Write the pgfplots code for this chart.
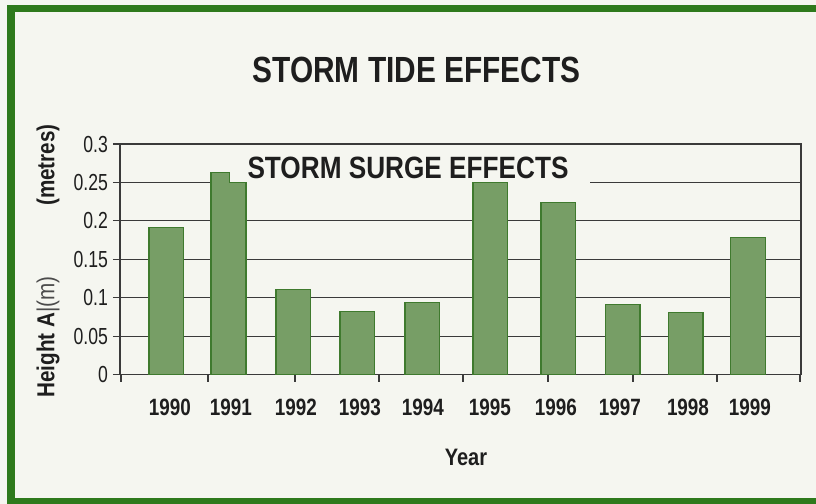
\documentclass[border=0pt]{standalone}
\usepackage{pgfplots}
\pgfplotsset{compat=1.18}
\usepackage{fontspec}
\setmainfont{Liberation Sans}
\usepackage{graphicx}

\definecolor{pagebg}{HTML}{F5F6F0}
\definecolor{frame}{HTML}{2E7A1C}
\definecolor{barfill}{HTML}{779E66}
\definecolor{baredge}{HTML}{3F7A2E}
\definecolor{rulegray}{HTML}{3A3A3A}
\definecolor{ink}{HTML}{1E1E1E}

% condensed lettering
\newcommand{\narrow}[2][0.82]{\scalebox{#1}[1]{#2}}
\newcommand{\yl}[1]{\scalebox{0.76}[1]{\fontsize{11.6}{12}\selectfont #1}}
\newcommand{\xl}[1]{\scalebox{0.8}[1]{\fontsize{11.8}{12}\selectfont\bfseries #1}}

\begin{document}
\begin{tikzpicture}[x=0.5pt,y=0.5pt]
  % page and frame
  \fill[pagebg] (0,0) rectangle (816,504);
  \fill[frame] (7,0) rectangle (15,499);
  \fill[frame] (7,492) rectangle (816,499);
  \fill[frame] (7,0) rectangle (816,6);

  \begin{axis}[
      at={(120,168.5)}, anchor=south west,
      scale only axis,
      width=340.5pt, height=115.25pt,
      xmin=120, xmax=801,
      ymin=0, ymax=0.3,
      axis line style={rulegray, line width=0.6pt},
      ymajorgrids,
      grid style={rulegray, line width=0.5pt},
      tick align=outside,
      xtick pos=bottom, ytick pos=left,
      major tick length=3.5pt,
      tick style={rulegray, line width=0.6pt},
      ytick={0,0.05,0.1,0.15,0.2,0.25,0.3},
      yticklabels={\yl{0},\yl{0.05},\yl{0.1},\yl{0.15},\yl{0.2},\yl{0.25},\yl{0.3}},
      yticklabel style={anchor=east, xshift=1pt, text=ink},
      xtick={121,208,295,379,463,548,633,717,800},
      xticklabels={},
      extra x ticks={170,231,296,360,423,490,556,620,688,750},
      extra x tick labels={\xl{1990},\xl{1991},\xl{1992},\xl{1993},\xl{1994},
        \xl{1995},\xl{1996},\xl{1997},\xl{1998},\xl{1999}},
      extra x tick style={
        major tick length=0pt,
        grid=none,
        xticklabel style={anchor=base, yshift=-20.5pt, text=ink},
      },
      clip=false,
    ]
    % panel that carries the inner caption
    \fill[pagebg] (axis cs:246,0.2486) rectangle (axis cs:590,0.2972);

    \addplot[ybar, bar width=34.5, bar shift=0pt,
             fill=barfill, draw=baredge, line width=0.6pt]
      coordinates {
        (166.3,0.191)
        (293.3,0.111)
        (357.2,0.082)
        (422.2,0.094)
        (490.3,0.250)
        (558.3,0.2235)
        (622.8,0.0913)
        (685.7,0.081)
        (748.0,0.1787)
      };
    % 1991: stepped top
    \addplot[fill=barfill, draw=baredge, line width=0.6pt]
      coordinates {(211,0) (211,0.2626) (229.3,0.2626) (229.3,0.25)
                   (246,0.25) (246,0)} -- cycle;
  \end{axis}

  % titles and axis captions
  \node[text=ink, inner sep=0pt] at (416.5,434)
    {\narrow{\fontsize{18.2}{20}\selectfont\bfseries STORM TIDE EFFECTS}};
  \node[text=ink, inner sep=0pt] at (408,336.5)
    {\narrow[0.85]{\fontsize{15.4}{17}\selectfont\bfseries STORM SURGE EFFECTS}};
  \node[text=ink, inner sep=0pt] at (466,47)
    {\narrow[0.84]{\fontsize{11.9}{13}\selectfont\bfseries Year}};
  \node[text=ink, inner sep=0pt, rotate=90, anchor=west] at (48,106)
    {\narrow[0.84]{\fontsize{12.3}{14}\selectfont\textbf{Height A}\textcolor{ink!80}{|(m)}}};
  \node[text=ink, inner sep=0pt, rotate=90] at (48,339)
    {\narrow[0.84]{\fontsize{12.3}{14}\selectfont\bfseries (metres)}};
\end{tikzpicture}
\end{document}
